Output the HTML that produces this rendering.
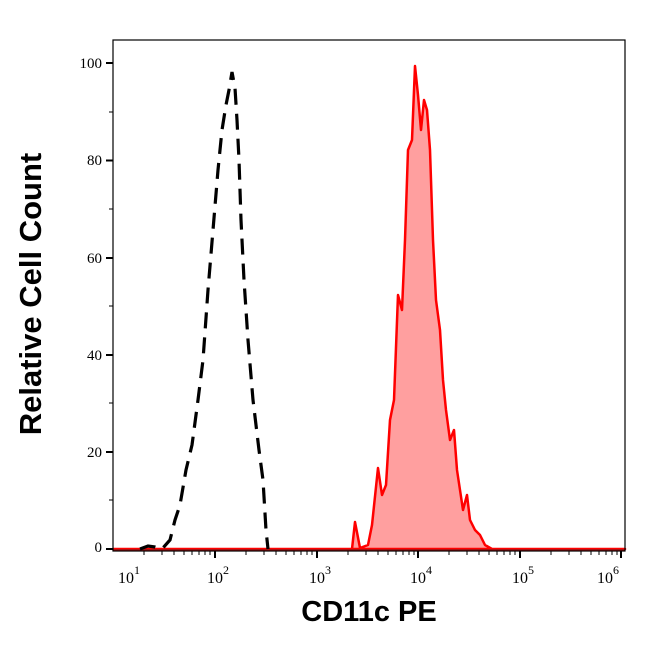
<!DOCTYPE html>
<html><head><meta charset="utf-8"><style>
body{margin:0;background:#fff;}
</style></head><body>
<svg width="646" height="641" viewBox="0 0 646 641" xmlns="http://www.w3.org/2000/svg">
<rect width="646" height="641" fill="#fff"/>
<path d="M113,549 L352,549 L355,522 L360,548 L368,545 L372,525 L378,468 L382,495 L386,485 L390,420 L394,400 L398,295 L402,310 L405,240 L408,150 L412,140 L415,66 L418,95 L421,130 L424,100 L427,110 L430,150 L433,240 L436,300 L440,330 L443,380 L446,410 L450,440 L454,430 L457,470 L460,490 L463,510 L467,495 L470,520 L475,530 L480,535 L485,545 L492,549 L625,549 Z" fill="#ff9f9f" stroke="#ff0000" stroke-width="2.5" stroke-linejoin="round"/>
<line x1="113" y1="550" x2="625" y2="550" stroke="#aa1111" stroke-width="2"/>
<path d="M140,549 L148,546 L155,547 L162,549 L170,540 L175,520 L180,505 L186,470 L192,445 L198,400 L203,360 L208,290 L213,230 L218,170 L222,130 L226,105 L229,90 L232,72 L235,88 L237,120 L239,160 L241,220 L244,280 L248,340 L253,400 L259,450 L263,480 L266,530 L268,549" fill="none" stroke="#000" stroke-width="3.2" stroke-dasharray="16,9"/>
<rect x="113" y="40" width="512" height="511" fill="none" stroke="#000" stroke-width="1.2"/>
<g stroke="#000" stroke-width="2">
<line x1="106" y1="63" x2="113" y2="63"/><line x1="106" y1="160.5" x2="113" y2="160.5"/><line x1="106" y1="258" x2="113" y2="258"/><line x1="106" y1="355" x2="113" y2="355"/><line x1="106" y1="452" x2="113" y2="452"/><line x1="106" y1="549" x2="113" y2="549"/>
<line x1="215" y1="551" x2="215" y2="558"/><line x1="317" y1="551" x2="317" y2="558"/><line x1="418" y1="551" x2="418" y2="558"/><line x1="520" y1="551" x2="520" y2="558"/><line x1="621" y1="551" x2="621" y2="558"/>
</g>
<g stroke="#000" stroke-width="1">
<line x1="109" y1="112" x2="113" y2="112"/><line x1="109" y1="209" x2="113" y2="209"/><line x1="109" y1="306" x2="113" y2="306"/><line x1="109" y1="403" x2="113" y2="403"/><line x1="109" y1="500" x2="113" y2="500"/>
</g>
<g font-family="Liberation Serif, serif" font-size="15" fill="#000" text-anchor="end">
<text x="102" y="68">100</text><text x="102" y="165">80</text><text x="102" y="263">60</text><text x="102" y="360">40</text><text x="102" y="457">20</text><text x="102" y="552">0</text>
</g>
<g font-family="Liberation Serif, serif" font-size="16" fill="#000">
<text x="118" y="583">10<tspan font-size="12" dy="-9">1</tspan></text>
<text x="207" y="583">10<tspan font-size="12" dy="-9">2</tspan></text>
<text x="309" y="583">10<tspan font-size="12" dy="-9">3</tspan></text>
<text x="410" y="583">10<tspan font-size="12" dy="-9">4</tspan></text>
<text x="512" y="583">10<tspan font-size="12" dy="-9">5</tspan></text>
<text x="597" y="583">10<tspan font-size="12" dy="-9">6</tspan></text>
</g>
<text x="369" y="621" font-family="Liberation Sans, sans-serif" font-weight="bold" font-size="29" text-anchor="middle">CD11c PE</text>
<text transform="translate(41,294) rotate(-90)" font-family="Liberation Sans, sans-serif" font-weight="bold" font-size="31" text-anchor="middle">Relative Cell Count</text>
<g stroke="#000" stroke-width="1">
<path d="M144,551v4M162,551v4M174,551v4M184,551v4M192,551v4M199,551v4M205,551v4M210,551v4M246,551v4M264,551v4M276,551v4M286,551v4M294,551v4M301,551v4M307,551v4M312,551v4M348,551v4M366,551v4M378,551v4M388,551v4M396,551v4M403,551v4M409,551v4M414,551v4M449,551v4M467,551v4M479,551v4M489,551v4M497,551v4M504,551v4M510,551v4M515,551v4M551,551v4M569,551v4M581,551v4M591,551v4M599,551v4M606,551v4M612,551v4M617,551v4"/>
</g>
</svg>
</body></html>
